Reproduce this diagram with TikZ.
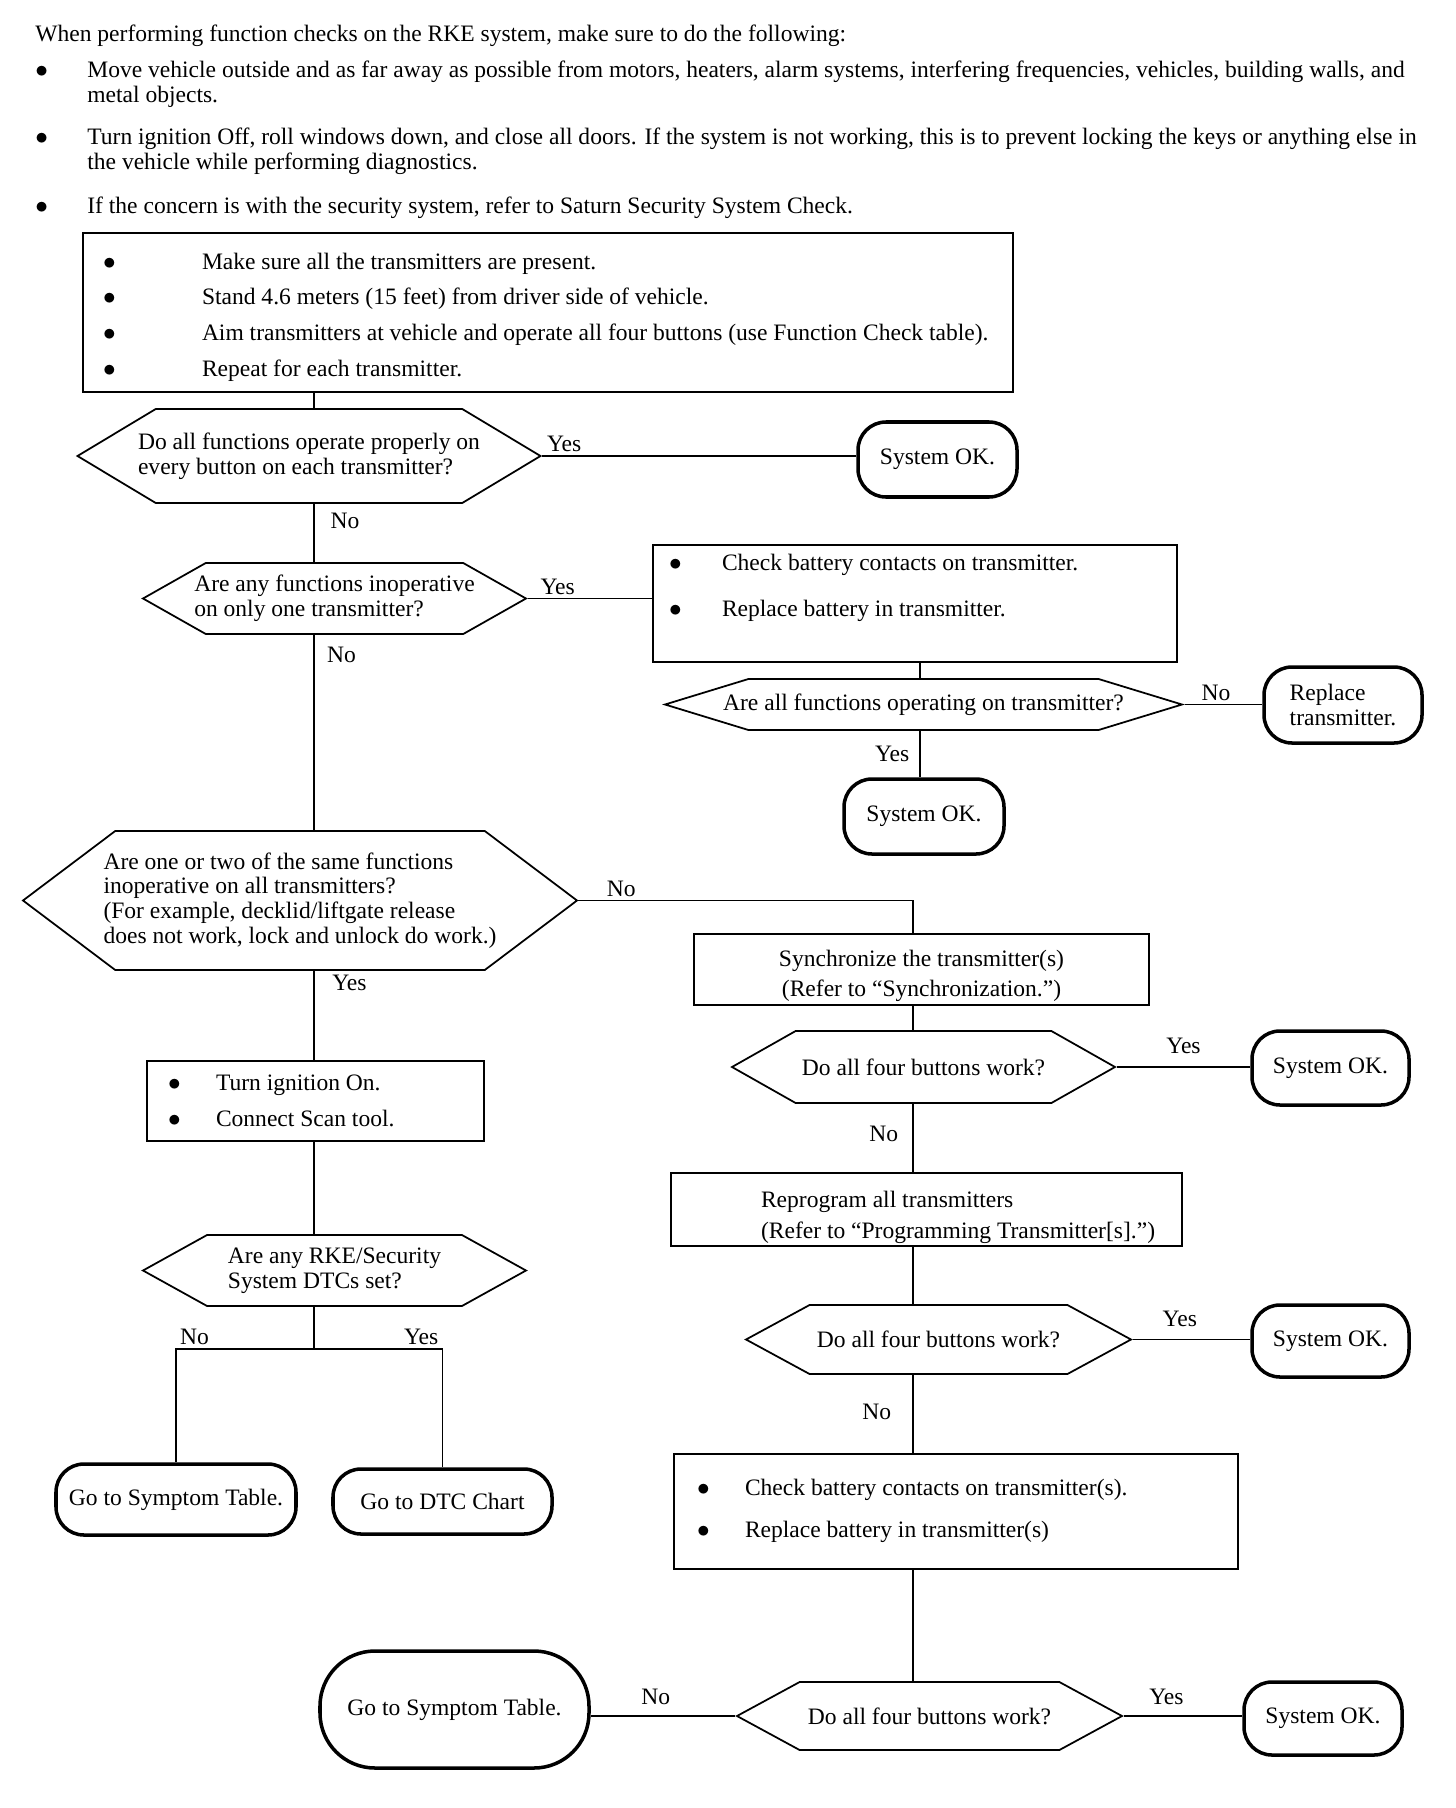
\documentclass[tikz,border=0pt]{standalone}
\usepackage{fontspec}
\setmainfont{Liberation Serif}
\usetikzlibrary{shapes.symbols}

\newlength{\pxu}
\setlength{\pxu}{0.02cm}
\newcommand{\bitem}[2]{\mbox{\makebox[#1\pxu][l]{$\bullet$}#2}}

\begin{document}
\begin{tikzpicture}[
  x=0.02cm, y=-0.02cm,
  every node/.style={font=\fontsize{13.4}{14}\selectfont},
  txt/.style={inner sep=0pt, align=left, anchor=west},
  listbox/.style={rectangle, draw, line width=1pt, inner sep=0pt},
  hexq/.style={signal, signal to=east and west, draw, line width=1pt,
    inner xsep=-45\pxu, inner ysep=0pt, align=left},
  term/.style={rectangle, rounded corners=28\pxu, draw, line width=2pt, align=center},
  lbl/.style={inner sep=2pt},
  conn/.style={line width=0.8pt}
]
\useasboundingbox (0,0) rectangle (1456,1808);
% === Instructions above the chart ===
\node[txt] (intro) at (35,36) {When performing function checks on the RKE system, make sure to do the following:};
\node[txt] (note1) at (35,84.5) {\bitem{52}{Move vehicle outside and as far away as possible from motors, heaters, alarm systems, interfering frequencies, vehicles, building walls, and}\\\hspace*{52\pxu}metal objects.};
\node[txt] (note2) at (35,151.5) {\bitem{52}{Turn ignition Off, roll windows down, and close all doors. If the system is not working, this is to prevent locking the keys or anything else in}\\\hspace*{52\pxu}the vehicle while performing diagnostics.};
\node[txt] (note3) at (35,208) {\bitem{52}{If the concern is with the security system, refer to Saturn Security System Check.}};
% === Trunk lines ===
\coordinate (trunk) at (314,0);
\coordinate (mtrunk) at (920,0);
\coordinate (rtrunk) at (913,0);
% === Start box ===
\node[listbox, minimum height=159\pxu, font=\fontsize{13.4}{20.3}\selectfont] (prep) at (548,312.5)
  {\parbox{930\pxu}{\vspace*{9\pxu}\hspace*{20\pxu}\bitem{99}{Make sure all the transmitters are present.}\\
   \hspace*{20\pxu}\bitem{99}{Stand 4.6 meters (15 feet) from driver side of vehicle.}\\
   \hspace*{20\pxu}\bitem{99}{Aim transmitters at vehicle and operate all four buttons (use Function Check table).}\\
   \hspace*{20\pxu}\bitem{99}{Repeat for each transmitter.}}};
% === Upper questions ===
\node[hexq, minimum width=463\pxu, minimum height=94\pxu, signal pointer angle=62] (q1) at (309,456)
  {Do all functions operate properly on\\every button on each transmitter?};
\node[term, minimum width=159\pxu, minimum height=75\pxu] (ok1) at (937.5,459.5) {System OK.};
\node[hexq, minimum width=383\pxu, minimum height=71\pxu, signal pointer angle=59] (q2) at (334.5,598.5)
  {Are any functions inoperative\\on only one transmitter?};
\node[listbox, minimum height=117\pxu, font=\fontsize{13.4}{26.2}\selectfont] (chk1) at (915,603.5)
  {\parbox{524\pxu}{\vspace*{6\pxu}\hspace*{16\pxu}\bitem{53}{Check battery contacts on transmitter.}\\
   \hspace*{16\pxu}\bitem{53}{Replace battery in transmitter.}\\[-4\pxu]\mbox{}}};
\node[hexq, minimum width=517\pxu, minimum height=51\pxu, signal pointer angle=34] (q4) at (923.5,704.5)
  {Are all functions operating on transmitter?};
\node[term, align=left, minimum width=158\pxu, minimum height=76\pxu] (repl) at (1343,705) {Replace\\transmitter.};
\node[term, minimum width=160\pxu, minimum height=75\pxu] (ok2) at (924,816.5) {System OK.};
% === Left branch ===
\node[hexq, minimum width=554\pxu, minimum height=139\pxu, signal pointer angle=74] (q3) at (300,900.5)
  {Are one or two of the same functions\\inoperative on all transmitters?\\(For example, decklid/liftgate release\\does not work, lock and unlock do work.)};
\node[listbox, minimum height=80\pxu, font=\fontsize{13.4}{20.5}\selectfont] (ign) at (315.5,1101)
  {\parbox{337\pxu}{\hspace*{21\pxu}\bitem{48}{Turn ignition On.}\\
   \hspace*{21\pxu}\bitem{48}{Connect Scan tool.}}};
\node[hexq, minimum width=383\pxu, minimum height=71\pxu, signal pointer angle=58] (q5) at (334.5,1270.5)
  {Are any RKE/Security\\System DTCs set?};
\node[term, minimum width=240\pxu, minimum height=71\pxu] (st1) at (176,1499.5) {Go to Symptom Table.};
\node[term, minimum width=219\pxu, minimum height=65\pxu] (dtc) at (442.5,1501.5) {Go to DTC Chart};
% === Right branch ===
\node[listbox, minimum height=71\pxu, font=\fontsize{13.4}{17.1}\selectfont] (sync) at (921.5,969.5)
  {\parbox{455\pxu}{\centering\vspace*{12\pxu}Synchronize the transmitter(s)\\(Refer to “Synchronization.”)}};
\node[hexq, minimum width=383\pxu, minimum height=72\pxu, signal pointer angle=59] (q6) at (923.5,1067)
  {Do all four buttons work?};
\node[term, minimum width=157\pxu, minimum height=74\pxu] (ok3) at (1330.5,1068) {System OK.};
\node[listbox, minimum height=73\pxu, font=\fontsize{13.4}{17.6}\selectfont] (reprog) at (926.5,1209.5)
  {\parbox{511\pxu}{\vspace*{15\pxu}\hspace*{90\pxu}Reprogram all transmitters\\
   \hspace*{90\pxu}(Refer to “Programming Transmitter[s].”)}};
\node[hexq, minimum width=385\pxu, minimum height=69\pxu, signal pointer angle=57] (q7) at (938.5,1339.5)
  {Do all four buttons work?};
\node[term, minimum width=157\pxu, minimum height=72\pxu] (ok4) at (1330.5,1341) {System OK.};
\node[listbox, minimum height=115\pxu, font=\fontsize{13.4}{23.9}\selectfont] (chk2) at (956,1511.5)
  {\parbox{564\pxu}{\vspace*{15\pxu}\hspace*{23\pxu}\bitem{48}{Check battery contacts on transmitter(s).}\\
   \hspace*{23\pxu}\bitem{48}{Replace battery in transmitter(s)}\\[-20\pxu]\mbox{}}};
\node[hexq, minimum width=385\pxu, minimum height=68\pxu, signal pointer angle=57] (q8) at (929.5,1716)
  {Do all four buttons work?};
\node[term, minimum width=158\pxu, minimum height=73\pxu] (ok5) at (1323,1718.5) {System OK.};
\node[term, rounded corners=55\pxu, minimum width=269\pxu, minimum height=117\pxu] (st2) at (454.5,1709.5) {Go to Symptom Table.};
% === Connectors with Yes/No labels ===
\draw[conn] (prep.south -| trunk) -- (q1.north -| trunk);
\draw[conn] (q1.east) -- node[lbl, above, pos=0.07] {Yes} (q1.east -| ok1.west);
\draw[conn] (q1.south -| trunk) -- node[lbl, right=7pt, pos=0.3] {No} (q2.north -| trunk);
\draw[conn] (q2.east) -- node[lbl, above, pos=0.24] {Yes} (q2.east -| chk1.west);
\draw[conn] (chk1.south -| mtrunk) -- (q4.north -| mtrunk);
\draw[conn] (q4.east) -- node[lbl, above, pos=0.4] {No} (q4.east -| repl.west);
\draw[conn] (q4.south -| mtrunk) -- node[lbl, left=3.7pt, pos=0.49] {Yes} (ok2.north -| mtrunk);
\draw[conn] (q2.south -| trunk) -- node[lbl, right=5pt, pos=0.1] {No} (q3.north -| trunk);
\draw[conn] (q3.east) -| node[lbl, above, pos=0.064] {No} (sync.north -| rtrunk);
\draw[conn] (q3.south -| trunk) -- node[lbl, right=8pt, pos=0.14] {Yes} (ign.north -| trunk);
\draw[conn] (ign.south -| trunk) -- (q5.north -| trunk);
\coordinate (split) at (314,1349);
\draw[conn] (q5.south -| trunk) -- (split);
\draw[conn] (split) -| node[lbl, pos=0.5, above right] {No} (st1.north);
\draw[conn] (split) -| node[lbl, pos=0.5, above left] {Yes} (dtc.north);
\draw[conn] (sync.south -| rtrunk) -- (q6.north -| rtrunk);
\draw[conn] (q6.east) -- node[lbl, above=5pt, pos=0.5] {Yes} (q6.east -| ok3.west);
\draw[conn] (q6.south -| rtrunk) -- node[lbl, left=6pt, pos=0.44] {No} (reprog.north -| rtrunk);
\draw[conn] (reprog.south -| rtrunk) -- (q7.north -| rtrunk);
\draw[conn] (q7.east) -- node[lbl, above=5pt, pos=0.4] {Yes} (q7.east -| ok4.west);
\draw[conn] (q7.south -| rtrunk) -- node[lbl, left=10pt, pos=0.475] {No} (chk2.north -| rtrunk);
\draw[conn] (chk2.south -| rtrunk) -- (q8.north -| rtrunk);
\draw[conn] (q8.east) -- node[lbl, above=4pt, pos=0.36] {Yes} (q8.east -| ok5.west);
\draw[conn] (q8.west) -- node[lbl, above=4pt, pos=0.55] {No} (q8.west -| st2.east);
\end{tikzpicture}
\end{document}
